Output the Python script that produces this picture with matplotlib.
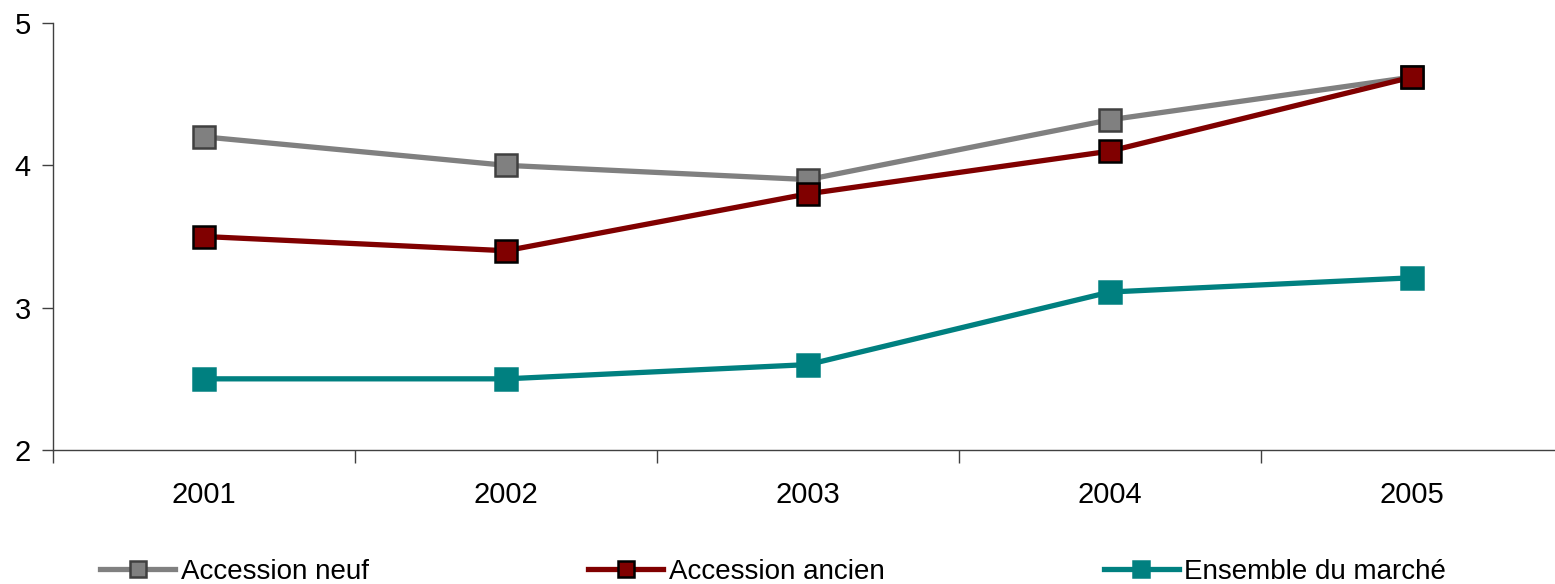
import matplotlib
matplotlib.use("Agg")
import matplotlib.pyplot as plt
import numpy as np

years = ["2001", "2002", "2003", "2004", "2005"]
accession_neuf = [4.2, 4.0, 3.9, 4.32, 4.62]
accession_ancien = [3.5, 3.4, 3.8, 4.1, 4.62]
ensemble_marche = [2.5, 2.5, 2.6, 3.11, 3.21]

series = [
    ("Accession neuf", accession_neuf, "#808080", "#404040"),
    ("Accession ancien", accession_ancien, "#800000", "#000000"),
    ("Ensemble du marché", ensemble_marche, "#008080", "#008080"),
]

plt.rcParams["font.family"] = ["Liberation Sans", "DejaVu Sans"]

fig = plt.figure(figsize=(15.55, 5.84), dpi=100)
ax = fig.add_axes([53 / 1555, 1 - 450 / 584, 1510 / 1555, (450 - 23) / 584])

x = np.arange(len(years))
for label, values, color, edge in series:
    ax.plot(x, values, color=color, linewidth=3.8, marker="s", markersize=16,
            markerfacecolor=color, markeredgecolor=edge, markeredgewidth=1.8,
            label=label, zorder=3)

ax.set_xlim(-0.5, 4.5)
ax.set_ylim(2, 5)
ax.set_yticks([2, 3, 4, 5])
ax.set_xticks(x)
ax.set_xticklabels(years)
ax.set_xticks(np.arange(-0.5, 5.0, 1.0), minor=True)

ax.tick_params(axis="x", which="major", length=0, pad=22, labelsize=21)
ax.tick_params(axis="x", which="minor", length=9, width=1, direction="out", color="#404040")
ax.tick_params(axis="y", length=8, width=1, direction="out", pad=8, labelsize=21, color="#404040")

for side in ("top", "right"):
    ax.spines[side].set_visible(False)
for side in ("left", "bottom"):
    ax.spines[side].set_color("#404040")
    ax.spines[side].set_linewidth(1)

fig.legend(loc="lower left", bbox_to_anchor=(100 / 1555, -0.002), ncol=3,
           frameon=False, fontsize=20, handlelength=2.7, handletextpad=0.2,
           columnspacing=7.9, borderaxespad=0, borderpad=0, markerscale=0.7)

fig.savefig("out.png", dpi=100)
